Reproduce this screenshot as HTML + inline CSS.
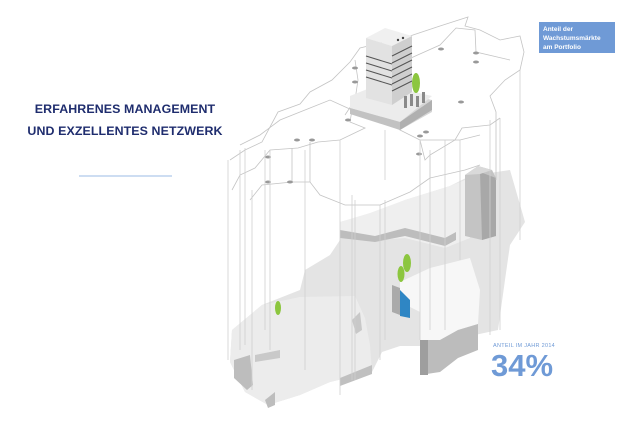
<!DOCTYPE html>
<html><head><meta charset="utf-8"><style>
html,body{margin:0;padding:0;background:#fff;}
body{width:640px;height:421px;position:relative;overflow:hidden;font-family:"Liberation Sans",sans-serif;}
.t{position:absolute;color:#1f2d6e;font-weight:bold;font-size:12.4px;letter-spacing:0.1px;white-space:nowrap;width:250px;text-align:center;left:0;}
</style></head><body>
<svg width="640" height="421" style="position:absolute;left:0;top:0">
<polygon fill="#e4e4e4" points="340,222 370,214 405,200 450,186 470,176 510,170 525,222 510,245 505,280 498,330 470,336 440,346 400,346 382,352 372,372 330,382 300,395 268,405 245,392 230,362 232,330 262,305 300,290 305,270 330,255 340,240"/>
<polygon fill="#efefef" points="340,222 370,213 405,200 450,186 470,178 470,238 445,248 405,238 375,240 340,238"/>
<polygon fill="#bdbdbd" points="340,230 340,238 375,242 405,236 445,246 456,240 456,232 445,238 405,228 375,236"/>
<polygon fill="#c4c4c4" points="465,175 478,166 492,170 496,178 496,236 482,240 465,236"/>
<polygon fill="#a8a8a8" points="480,172 496,178 496,236 482,240"/>
<polygon fill="#d9d9d9" points="465,175 478,166 492,170 480,174"/>
<polygon fill="#f7f7f7" points="400,282 430,268 470,258 480,290 478,324 458,330 440,340 420,340 420,312 400,302"/>
<polygon fill="#bcbcbc" points="420,340 440,340 458,330 478,324 478,350 458,358 440,372 420,375"/>
<polygon fill="#9e9e9e" points="420,340 428,340 428,375 420,375"/>
<polygon fill="#aaa" points="392,285 400,288 400,315 392,312"/>
<polygon fill="#2f86c4" points="400,290 410,300 410,318 400,316"/>
<polygon fill="#ececec" points="232,330 262,305 300,297 355,296 365,318 370,345 372,372 330,382 300,395 268,405 245,392 230,362"/>
<polygon fill="#bdbdbd" points="234,360 250,355 253,385 247,390 234,378"/>
<polygon fill="#bdbdbd" points="265,400 275,392 275,405 268,408"/>
<polygon fill="#c0c0c0" points="340,378 372,365 372,374 340,386"/>
<polygon fill="#c8c8c8" points="352,320 360,312 362,330 356,334"/>
<polygon fill="#c9c9c9" points="255,355 280,350 280,358 255,362"/>
<g fill="none" stroke="#c4c4c4" stroke-width="0.8">
<polyline points="230,160 245,150 262,142 278,112 300,104 310,92 332,80 350,62 360,48 385,42 410,36 440,26 468,17 465,26 480,30 500,40 520,36 524,52 520,70 505,80 490,96 496,112 496,180"/>
<polyline points="240,145 260,135 280,120 305,110 330,100 352,110 350,122 365,128 340,140 318,142 298,148 270,150 255,168 240,175 232,190"/>
<polyline points="292,148 292,182 262,185 250,200"/>
<polyline points="292,182 310,182 320,195 345,205 380,205 410,192 430,178 430,155 455,140 462,128 490,125 500,118"/>
<polyline points="310,142 310,182"/>
<polyline points="402,62 440,45 456,28 475,30 476,52 510,60"/>
<polyline points="376,110 400,130 420,140 425,160 430,155"/>
<polyline points="420,140 460,140 480,135"/>
<polyline points="430,178 465,170 480,165"/>
<polyline points="355,60 358,80 355,100 345,115"/>
</g>
<g fill="#999">
<ellipse cx="355" cy="68" rx="3" ry="1.5"/><ellipse cx="355" cy="82" rx="3" ry="1.5"/>
<ellipse cx="441" cy="49" rx="3" ry="1.5"/><ellipse cx="476" cy="53" rx="3" ry="1.5"/><ellipse cx="476" cy="62" rx="3" ry="1.5"/>
<ellipse cx="461" cy="102" rx="3" ry="1.5"/><ellipse cx="348" cy="120" rx="3" ry="1.5"/>
<ellipse cx="297" cy="140" rx="3" ry="1.5"/><ellipse cx="312" cy="140" rx="3" ry="1.5"/>
<ellipse cx="268" cy="157" rx="3" ry="1.5"/><ellipse cx="268" cy="182" rx="3" ry="1.5"/><ellipse cx="290" cy="182" rx="3" ry="1.5"/>
<ellipse cx="420" cy="136" rx="3" ry="1.5"/><ellipse cx="426" cy="132" rx="3" ry="1.5"/><ellipse cx="419" cy="154" rx="3" ry="1.5"/>
</g>
<g stroke="#cfcfcf" stroke-width="0.8">
<line x1="228" y1="160" x2="228" y2="360"/><line x1="240" y1="150" x2="240" y2="350"/><line x1="245" y1="148" x2="245" y2="345"/>
<line x1="252" y1="190" x2="252" y2="390"/><line x1="265" y1="150" x2="265" y2="330"/><line x1="270" y1="150" x2="270" y2="350"/>
<line x1="305" y1="150" x2="305" y2="370"/><line x1="340" y1="140" x2="340" y2="395"/><line x1="352" y1="195" x2="352" y2="380"/>
<line x1="355" y1="200" x2="355" y2="380"/><line x1="380" y1="205" x2="380" y2="360"/><line x1="385" y1="200" x2="385" y2="340"/>
<line x1="420" y1="140" x2="420" y2="340"/><line x1="430" y1="150" x2="430" y2="330"/><line x1="445" y1="140" x2="445" y2="330"/>
<line x1="460" y1="140" x2="460" y2="260"/><line x1="490" y1="120" x2="490" y2="335"/><line x1="500" y1="118" x2="500" y2="330"/>
<line x1="520" y1="70" x2="520" y2="240"/><line x1="385" y1="130" x2="385" y2="180"/>
</g>
<polygon fill="#d6d6d6" points="350,100 380,88 432,100 432,112 400,130 350,112"/>
<polygon fill="#ececec" points="350,96 380,84 432,96 400,122 350,108"/>
<polygon fill="#c2c2c2" points="350,108 400,122 400,130 350,114"/>
<polygon fill="#b0b0b0" points="400,122 432,100 432,110 400,130"/>
<polygon fill="#f0f0f0" points="366,38 385,28 412,36 392,46"/>
<polygon fill="#e2e2e2" points="366,38 392,46 392,105 366,98"/>
<polygon fill="#cfcfcf" points="392,46 412,36 412,92 392,105"/>
<g stroke="#555" stroke-width="1">
<line x1="392" y1="56" x2="412" y2="46"/><line x1="392" y1="63" x2="412" y2="53"/><line x1="392" y1="70" x2="412" y2="60"/>
<line x1="392" y1="77" x2="412" y2="67"/><line x1="392" y1="84" x2="412" y2="74"/><line x1="392" y1="91" x2="412" y2="81"/>
<line x1="366" y1="56" x2="392" y2="64"/><line x1="366" y1="63" x2="392" y2="71"/><line x1="366" y1="70" x2="392" y2="78"/><line x1="366" y1="77" x2="392" y2="85"/>
</g>
<circle cx="398" cy="40" r="1.2" fill="#444"/><circle cx="403" cy="38" r="1.2" fill="#444"/>
<g fill="#8a8a8a"><rect x="404" y="96" width="3" height="12"/><rect x="410" y="94" width="3" height="12"/><rect x="416" y="96" width="3" height="11"/><rect x="422" y="92" width="3" height="11"/></g>
<g fill="#8cc63f"><ellipse cx="416" cy="83" rx="4" ry="10"/><ellipse cx="407" cy="263" rx="4" ry="9"/><ellipse cx="401" cy="274" rx="3.5" ry="8"/><ellipse cx="278" cy="308" rx="3" ry="7"/></g>
<rect x="539" y="22" width="76" height="31" fill="#6f9ad6"/>
<text x="543" y="31" font-family="Liberation Sans" font-size="6.5" font-weight="bold" fill="#fff">Anteil der</text>
<text x="543" y="40" font-family="Liberation Sans" font-size="6.5" font-weight="bold" fill="#fff">Wachstumsmärkte</text>
<text x="543" y="49" font-family="Liberation Sans" font-size="6.5" font-weight="bold" fill="#fff">am Portfolio</text>
<text x="493" y="347" font-family="Liberation Sans" font-size="5.5" fill="#6f9ad6" letter-spacing="0.3">ANTEIL IM JAHR 2014</text>
<text x="491" y="376" font-family="Liberation Sans" font-size="31" font-weight="bold" fill="#6f9ad6">34%</text>
<line x1="79" y1="176" x2="172" y2="176" stroke="#9bbbe6" stroke-width="1"/>
</svg>
<div class="t" style="top:102px">ERFAHRENES MANAGEMENT</div>
<div class="t" style="top:124px">UND EXZELLENTES NETZWERK</div>
</body></html>
